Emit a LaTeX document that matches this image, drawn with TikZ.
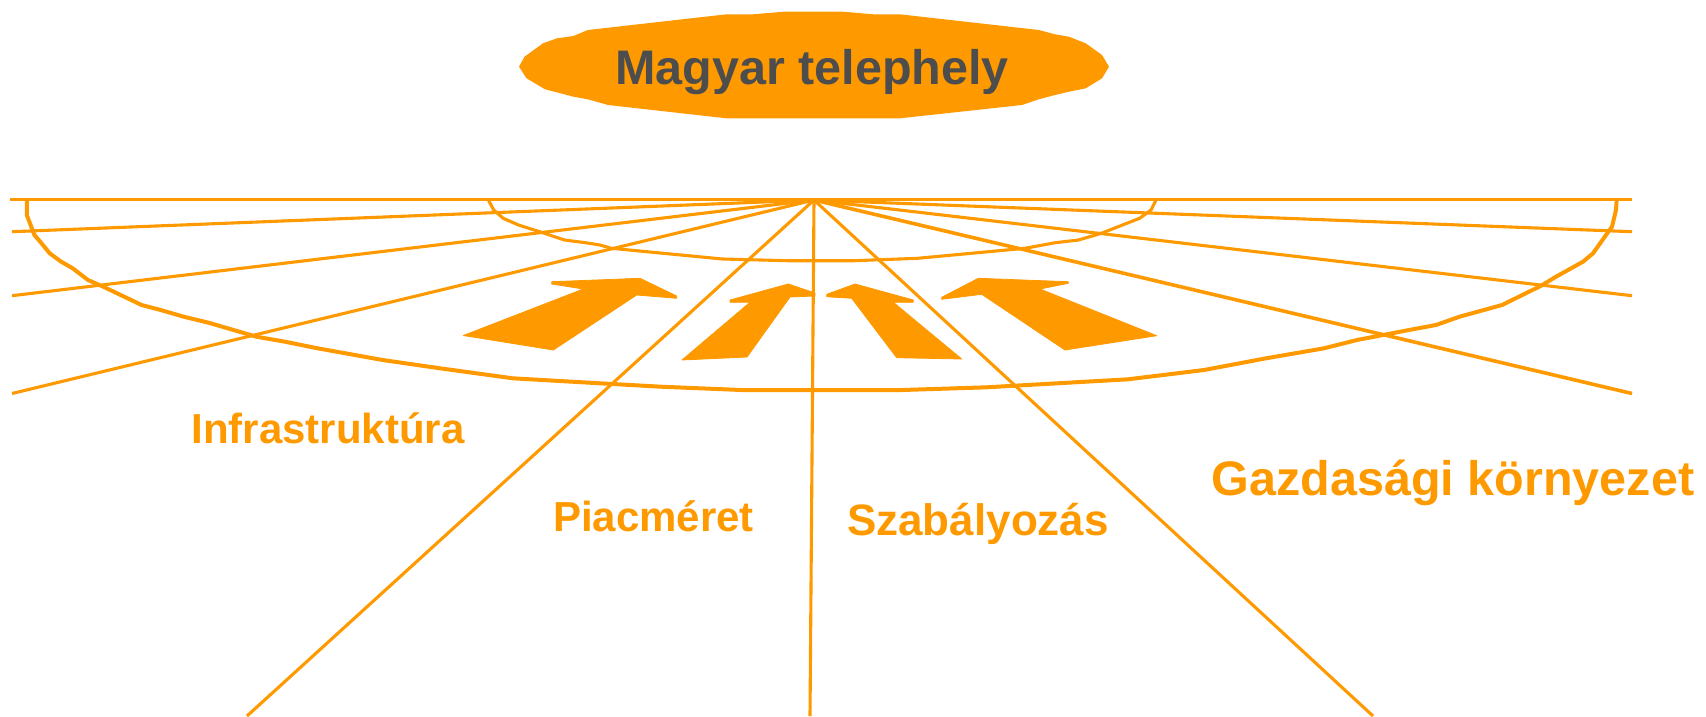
\documentclass[tikz,border=0pt]{standalone}
\usepackage{fontspec}
\setmainfont{Liberation Sans}
\definecolor{org}{RGB}{255,153,0}
\definecolor{txtgray}{RGB}{77,77,77}
\begin{document}
\begin{tikzpicture}[x=1pt,y=-1pt,line join=round,
  ray/.style={draw=org,line width=3.1pt},
  horizon/.style={draw=org,line width=3.4pt},
  curveline/.style={draw=org,line width=4pt},
  arrowshape/.style={fill=org,draw=org,line width=0.8pt},
  blob/.style={fill=org},
  title/.style={text=txtgray,font=\fontsize{48.5}{58}\selectfont\bfseries,inner sep=0pt,anchor=base},
  lbl/.style={text=org,inner sep=0pt,anchor=base}]
\useasboundingbox (0,0) rectangle (1706,716);

% --- title blob ---
\path[blob] (726.5,14.3) -- (753,14.3) -- (783.7,11.7) -- (842.9,11.7) -- (873.5,14.3) -- (900,14.3)
  -- (1038.8,30) -- (1055,34.3) -- (1069,36.7) -- (1085.7,43.3) -- (1102,55) -- (1109,66.7)
  -- (1102,78.3) -- (1085.7,88.3) -- (1069,91.7) -- (1055,95) -- (1038.8,99.3) -- (1022,105)
  -- (900,118.3) -- (726.5,118.3) -- (608,105) -- (587.8,99.3) -- (573.5,96.7) -- (545,89.3)
  -- (526.5,78.3) -- (519,66.7) -- (524.5,56.7) -- (543,43.3) -- (557,38.3) -- (573.5,36)
  -- (587.8,30) -- cycle;
\node[title] (t) at (812,84) {Magyar telephely};

% --- named points ---
\coordinate (vp) at (814,200);
\coordinate (hl) at (10,199.3);
\coordinate (hr) at (1632,199.3);
\coordinate (l1) at (12,231.7);
\coordinate (l2) at (12,295.7);
\coordinate (l3) at (12,393.5);
\coordinate (r1) at (1632,231.7);
\coordinate (r2) at (1632,295.7);
\coordinate (r3) at (1632,393.5);
\coordinate (d1) at (247,716);
\coordinate (d2) at (810,716);
\coordinate (d3) at (1373,716);

% --- horizon and rays ---
\draw[horizon] (hl) -- (hr);
\draw[ray] (vp) -- (l1);
\draw[ray] (vp) -- (l2);
\draw[ray] (vp) -- (l3);
\draw[ray] (vp) -- (r1);
\draw[ray] (vp) -- (r2);
\draw[ray,line width=3.6pt] (vp) -- (r3);
\draw[ray] (vp) -- (d1);
\draw[ray] (vp) -- (d2);
\draw[ray] (vp) -- (d3);

% --- big bowl curve ---
\draw[curveline] (26.8,199.3) -- (26.8,215) -- (34.4,235) -- (40.2,241.7) -- (49.7,253.3) -- (61.2,261.7)
  -- (72.7,268.3) -- (88,280) -- (103.3,286.7) -- (141.6,305) -- (160.7,310) -- (183.7,316.7)
  -- (208.6,322.7) -- (256.4,336.7) -- (285,341.7) -- (317.6,348.3) -- (382.7,360) -- (440,368.3)
  -- (512.8,378.3) -- (600,383.3) -- (661,386.7) -- (741.6,390) -- (902.3,390) -- (986.5,387.3)
  -- (1128,379.3) -- (1204,370) -- (1266,358.3) -- (1324,348.3) -- (1357,340) -- (1409,330)
  -- (1436,325) -- (1459.5,316.7) -- (1502,305) -- (1540.6,286) -- (1556,276.7) -- (1583,261.7)
  -- (1593,253.3) -- (1606,235) -- (1612,226.7) -- (1616,210) -- (1616.7,199.3);

% --- small bowl curve ---
\draw[ray] (488,199.3) -- (493.7,210) -- (503.2,218.3) -- (518.5,225) -- (539.6,231.7) -- (564.5,240)
  -- (585.5,242.7) -- (600,245) -- (611.5,248.3) -- (722.5,259) -- (787.5,260.7) -- (854.5,260.7)
  -- (917.6,258.3) -- (1024.8,248.3) -- (1055.4,242.7) -- (1078.4,240) -- (1101.3,233.3)
  -- (1139.6,218.3) -- (1151,210) -- (1155.7,200.7);

% --- arrows ---
\path[arrowshape] (551.7,281.7) -- (640,278.3) -- (676.7,296) -- (676.7,298.3) -- (636.7,295)
  -- (553.3,350) -- (463.3,335.5) -- (583.3,289) -- (551.7,284) -- cycle;
\path[arrowshape] (730,300) -- (788.3,284) -- (815,293) -- (815,296) -- (790,297) -- (747,357)
  -- (682,360) -- (750,302.3) -- (730,302.3) -- cycle;
\path[arrowshape] (826.7,294.3) -- (855,284) -- (913.3,300) -- (913.3,302.3) -- (893.3,302.3)
  -- (961.7,359) -- (896.7,357.7) -- (851.7,298.3) -- (826.7,296.7) -- cycle;
\path[arrowshape] (941.7,297.3) -- (978.3,278.3) -- (1068.3,281.7) -- (1068.3,283.3) -- (1040,289)
  -- (1156.7,335.7) -- (1065,350) -- (981.7,294.3) -- (941.7,299.3) -- cycle;

% --- labels ---
\node[lbl,font=\fontsize{42}{50}\selectfont\bfseries] (infra) at (328,443.5) {Infrastruktúra};
\node[lbl,font=\fontsize{42}{50}\selectfont\bfseries] (piac) at (653.4,531.7) {Piacméret};
\node[lbl,font=\fontsize{44}{52}\selectfont\bfseries] (szab) at (978,535) {Szabályozás};
\node[lbl,font=\fontsize{48.5}{58}\selectfont\bfseries] (gazd) at (1453,495) {Gazdasági környezet};
\end{tikzpicture}
\end{document}
